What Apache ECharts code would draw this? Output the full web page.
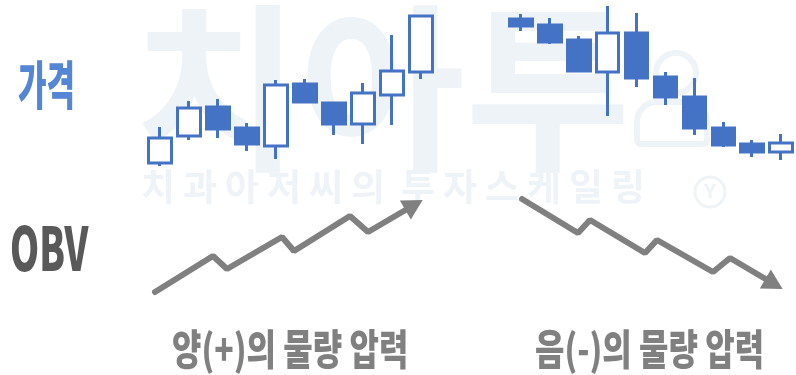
<!DOCTYPE html>
<html>
<head>
<meta charset="utf-8">
<script src="https://cdn.jsdelivr.net/npm/echarts@6/dist/echarts.min.js"></script>
<style>
  html, body { margin: 0; padding: 0; background: #fff; }
  #main { width: 796px; height: 375px; }
</style>
</head>
<body>
<div id="main"></div>
<script>
// 가격 캔들: [시가, 종가, 저가, 고가]
var upCandles = [
  [7, 32, 4, 43],
  [34, 62, 30, 69],
  [63, 41, 32, 71],
  [42, 26, 19, 47],
  [24, 85, 11, 90],
  [86, 68, 68, 91],
  [67, 46, 35, 67],
  [46, 77, 26, 87],
  [75, 99, 45, 135],
  [98, 154, 91, 154]
];
var downCandles = [
  [151, 144, 139, 156],
  [145, 128, 126, 152],
  [130, 99, 99, 134],
  [98, 137, 54, 164],
  [137, 92, 83, 157],
  [93, 73, 65, 98],
  [73, 42, 35, 92],
  [42, 25, 23, 48],
  [26, 18, 13, 30],
  [18, 27, 10, 36]
];
var candleDays = ['1', '2', '3', '4', '5', '6', '7', '8', '9', '10'];

// OBV 흐름 (x, y)
var obvUpX = [155, 213, 227, 282, 294, 350, 368, 414];
var obvUpY = [83, 119, 106, 138, 124, 159, 143, 170];
var obvDownX = [522, 578, 590, 645, 657, 713, 730, 774];
var obvDownY = [176, 142, 155, 122, 135, 103, 117, 91];

var labelPrice = '가격';
var labelObv = 'OBV';
var labelUp = '양(+)의 물량 압력';
var labelDown = '음(-)의 물량 압력';

var blue = '#4472C4';
var gray = '#808080';
var mark = '#EEF3F8';

function pairs(xs, ys) {
  var out = [];
  for (var i = 0; i < xs.length; i++) out.push([xs[i], ys[i]]);
  return out;
}
var upLine = pairs(obvUpX, obvUpY);
var downLine = pairs(obvDownX, obvDownY);

// 워터마크 작은 글씨
var smallMark = '치과아저씨의 투자스케일링';
var markChars = [];
var cx = 141;
for (var i = 0; i < smallMark.length; i++) {
  var ch = smallMark[i];
  if (ch === ' ') { cx += 8; continue; }
  markChars.push({
    type: 'text', x: cx, y: 168, z: 0, silent: true,
    style: { text: ch, font: 'bold 37px "Noto Sans CJK KR"', fill: mark }
  });
  cx += 42;
}
markChars.push({
  type: 'circle', z: 0, silent: true,
  shape: { cx: 710, cy: 192, r: 15 },
  style: { fill: 'none', stroke: mark, lineWidth: 3 }
});
markChars.push({
  type: 'text', x: 710, y: 192, z: 0, silent: true,
  style: { text: 'Y', font: 'bold 20px "Noto Sans"', fill: mark, align: 'center', verticalAlign: 'middle' }
});

var candleStyle = {
  color: '#fff',
  borderColor: blue,
  color0: blue,
  borderColor0: blue,
  borderWidth: 3
};

var myChart = echarts.init(document.getElementById('main'));
var option = {
  animation: false,
  backgroundColor: '#fff',
  grid: [
    { left: 145.5, width: 290, top: 0, height: 170 },
    { left: 506.5, width: 289, top: 0, height: 170 },
    { left: 0, right: 0, top: 0, bottom: 0 }
  ],
  xAxis: [
    { type: 'category', gridIndex: 0, data: candleDays, show: false },
    { type: 'category', gridIndex: 1, data: candleDays, show: false },
    { type: 'value', gridIndex: 2, min: 0, max: 796, show: false }
  ],
  yAxis: [
    { type: 'value', gridIndex: 0, min: 0, max: 170, show: false },
    { type: 'value', gridIndex: 1, min: 0, max: 170, show: false },
    { type: 'value', gridIndex: 2, min: 0, max: 375, show: false }
  ],
  graphic: [
    {
      type: 'text', x: 134, y: -2, scaleY: 1.0, z: 0, silent: true,
      style: { text: '치아투', font: 'bold 180px "Noto Sans CJK KR"', fill: mark }
    },
    {
      type: 'circle', z: 0, silent: true,
      shape: { cx: 676, cy: 73, r: 20 },
      style: { fill: 'none', stroke: mark, lineWidth: 6 }
    },
    {
      type: 'rect', z: 0, silent: true,
      shape: { x: 637, y: 102, width: 70, height: 42, r: [20, 20, 4, 4] },
      style: { fill: 'none', stroke: mark, lineWidth: 6 }
    },
    {
      type: 'text', x: 18, y: 59, scaleX: 0.62, scaleY: 1.05, z: 5,
      style: { text: labelPrice, font: '900 50px "Noto Sans CJK KR"', fill: '#5585D5' }
    },
    {
      type: 'text', x: 10, y: 218, scaleX: 0.64, scaleY: 1.04, z: 5,
      style: { text: labelObv, font: '900 58px "Noto Sans CJK KR"', fill: '#595959' }
    },
    {
      type: 'text', x: 172, y: 328, scaleX: 0.8, scaleY: 1.05, z: 5,
      style: { text: labelUp, font: '900 40px "Noto Sans CJK KR"', fill: gray }
    },
    {
      type: 'text', x: 535, y: 328, scaleX: 0.8, scaleY: 1.05, z: 5,
      style: { text: labelDown, font: '900 40px "Noto Sans CJK KR"', fill: gray }
    }
  ].concat(markChars),
  series: [
    {
      type: 'candlestick', xAxisIndex: 0, yAxisIndex: 0,
      barWidth: 23, itemStyle: candleStyle, data: upCandles, z: 3
    },
    {
      type: 'candlestick', xAxisIndex: 1, yAxisIndex: 1,
      barWidth: 23, itemStyle: candleStyle, data: downCandles, z: 3
    },
    {
      type: 'line', xAxisIndex: 2, yAxisIndex: 2, data: upLine,
      symbol: 'none', lineStyle: { color: gray, width: 6, cap: 'round' }, z: 4
    },
    {
      type: 'line', xAxisIndex: 2, yAxisIndex: 2, data: downLine,
      symbol: 'none', lineStyle: { color: gray, width: 6, cap: 'round' }, z: 4
    },
    {
      type: 'scatter', xAxisIndex: 2, yAxisIndex: 2, z: 4,
      symbol: 'triangle', symbolSize: [22, 20],
      itemStyle: { color: gray, opacity: 1 },
      data: [
        { value: upLine[upLine.length - 1], symbolRotate: -60 },
        { value: downLine[downLine.length - 1], symbolRotate: -120 }
      ]
    }
  ]
};
myChart.setOption(option);
</script>
</body>
</html>
